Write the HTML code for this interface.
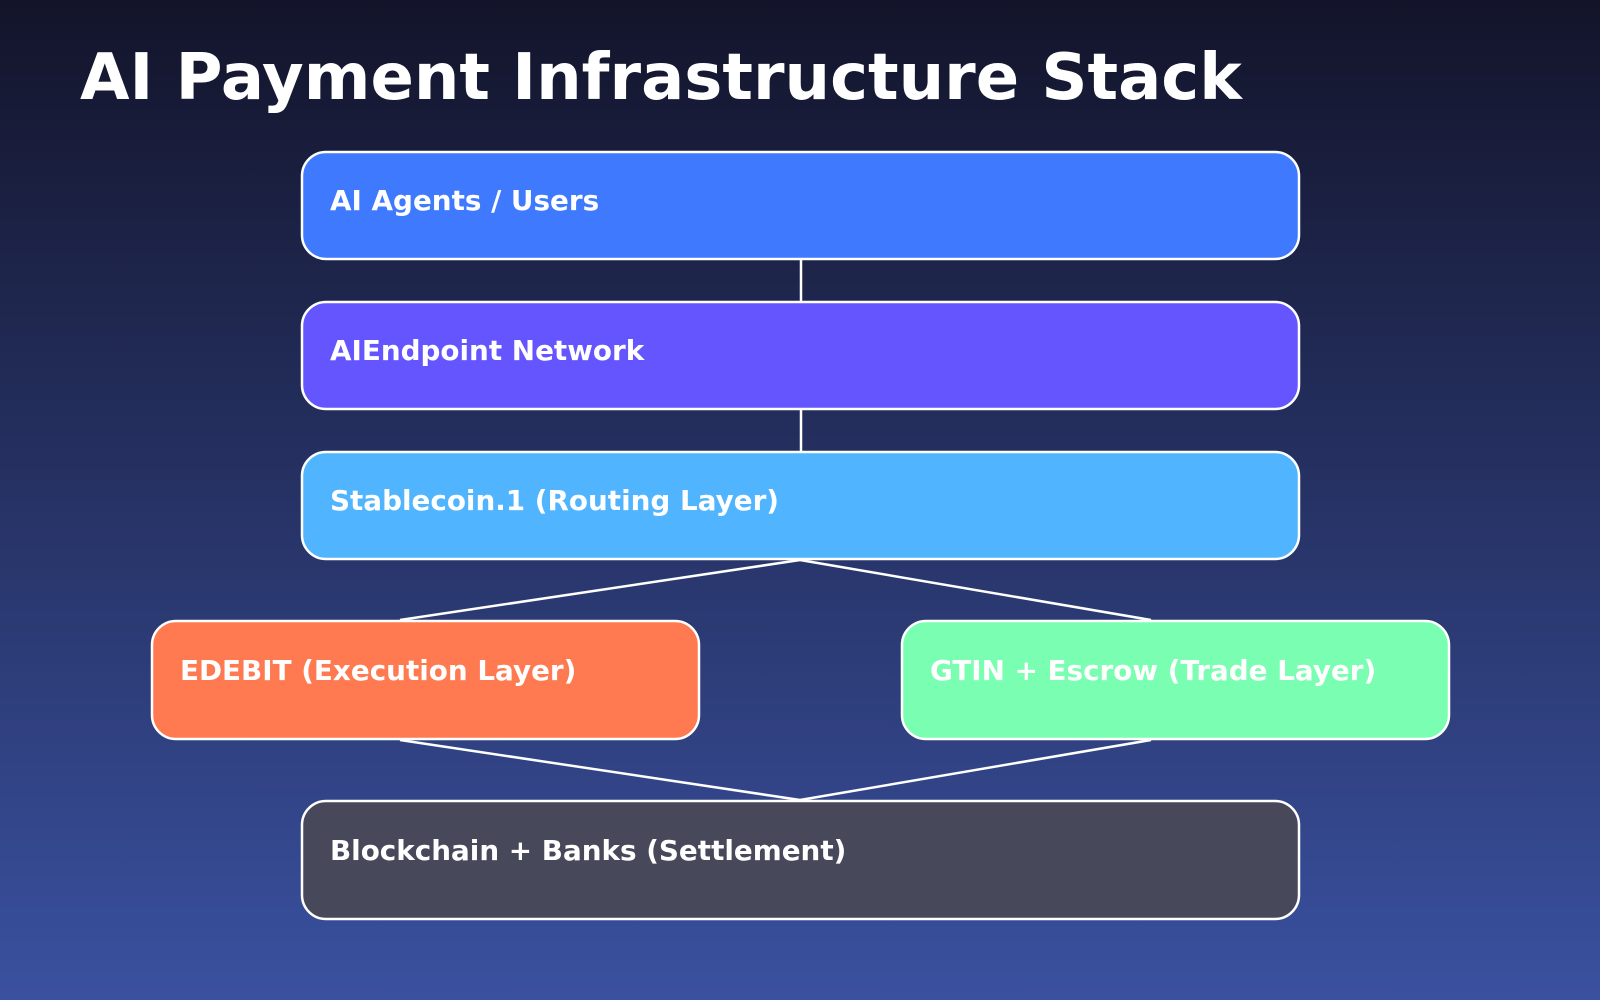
<!DOCTYPE html>
<html><head><meta charset="utf-8"><style>
html,body{margin:0;padding:0;}
body{width:1600px;height:1000px;overflow:hidden;background:linear-gradient(#13142a,#3a51a0);}
</style></head><body>
<svg width="1600" height="1000" xmlns="http://www.w3.org/2000/svg" style="display:block">
<defs><linearGradient id="bg" x1="0" y1="0" x2="0" y2="1"><stop offset="0" stop-color="#13142a"/><stop offset="1" stop-color="#3a51a0"/></linearGradient></defs>
<rect width="1600" height="1000" fill="url(#bg)"/>
<text x="80" y="99" font-family="DejaVu Sans, sans-serif" font-weight="bold" font-size="64" fill="#fff">AI Payment Infrastructure Stack</text>
<g stroke="#fff" stroke-width="2.5" fill="none">
<line x1="801" y1="259" x2="801" y2="302"/>
<line x1="801" y1="409" x2="801" y2="452"/>
<line x1="800" y1="560" x2="400" y2="620"/>
<line x1="800" y1="560" x2="1151" y2="620"/>
<line x1="400" y1="740" x2="800" y2="800"/>
<line x1="1151" y1="740" x2="800" y2="800"/>
</g>
<g stroke="#fff" stroke-width="2.5">
<rect x="302" y="152" width="997" height="107" rx="24" fill="#3e79fe"/>
<rect x="302" y="302" width="997" height="107" rx="24" fill="#6455fe"/>
<rect x="302" y="452" width="997" height="107" rx="24" fill="#50b4fe"/>
<rect x="152" y="621" width="547" height="118" rx="24" fill="#ff7a51"/>
<rect x="902" y="621" width="547" height="118" rx="24" fill="#7afeb1"/>
<rect x="302" y="801" width="997" height="118" rx="24" fill="#47495b"/>
</g>
<g fill="#fff" font-family="DejaVu Sans, sans-serif" font-weight="bold" font-size="27.8">
<text x="330" y="210">AI Agents / Users</text>
<text x="330" y="360">AIEndpoint Network</text>
<text x="330" y="510">Stablecoin.1 (Routing Layer)</text>
<text x="180" y="680">EDEBIT (Execution Layer)</text>
<text x="930" y="680">GTIN + Escrow (Trade Layer)</text>
<text x="330" y="860">Blockchain + Banks (Settlement)</text>
</g>
</svg>
</body></html>
